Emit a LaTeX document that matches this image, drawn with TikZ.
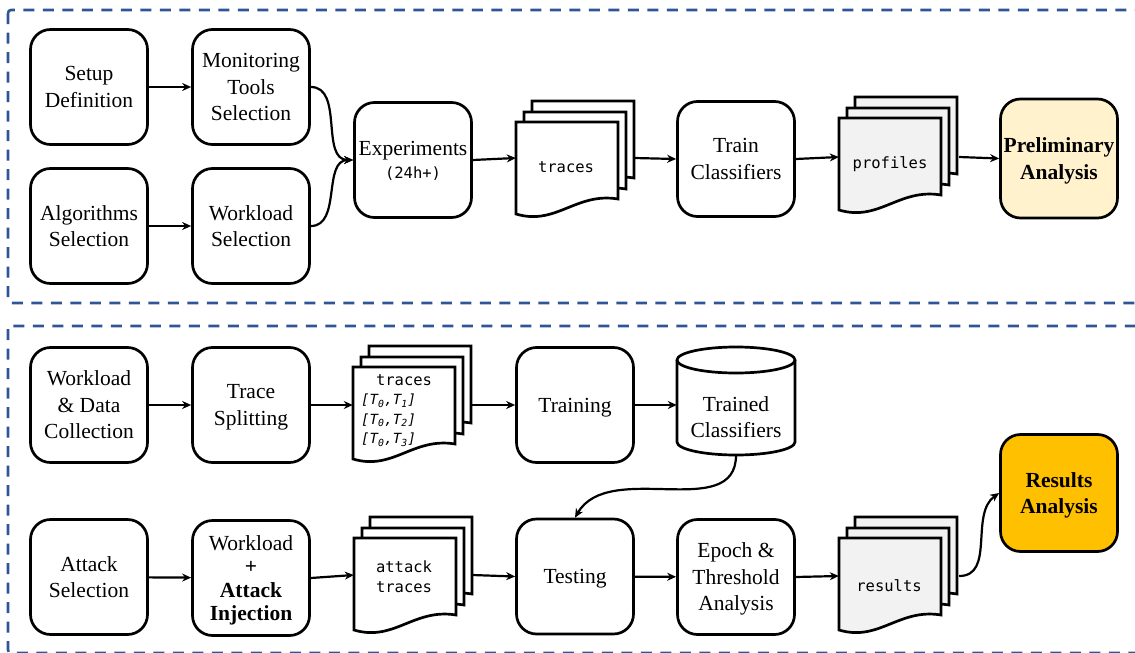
\documentclass[tikz,border=0pt]{standalone}
\usepackage{fontspec}
\setmainfont{Liberation Serif}
\setmonofont{DejaVu Sans Mono}
\usetikzlibrary{arrows.meta}

\definecolor{frameblue}{HTML}{2F5597}
\definecolor{sheetgray}{HTML}{F2F2F2}
\definecolor{paleyellow}{HTML}{FFF2CC}
\definecolor{amber}{HTML}{FFC000}

\tikzset{
  box/.style={draw, line width=2.7pt, rounded corners=20pt, minimum width=117pt,
    minimum height=115pt, align=center, inner sep=2pt, text depth=0pt,
    font=\fontsize{21.5}{26.5}\selectfont},
  flow/.style={line width=2.2pt, -{Stealth[length=9pt,width=8pt]}},
  frame/.style={draw=frameblue, line width=2.6pt, dash pattern=on 11pt off 8.5pt},
  sheet/.style={draw, line width=2.7pt, line join=miter},
  doctext/.style={font=\fontsize{15.5}{20}\selectfont\ttfamily, align=center, inner sep=0pt},
  stackspot/.style={inner sep=0pt, minimum width=#1, minimum height=90pt},
  celltext/.style={font=\fontsize{21.5}{26.5}\selectfont, align=center, inner sep=0pt}
}

% one sheet of a document stack: top-left corner x, y and fill colour
\newcommand\pagesheet[3]{%
  \filldraw[sheet, fill=#3] (#1,#2) -- ++(102,0) -- ++(0,77)
    .. controls +(-42,-7) and +(40,12) .. ++(-102,15) -- cycle;}
% three stacked sheets, given the front sheet's top-left corner
\newcommand\pagestack[3]{%
  \pagesheet{#1+16}{#2-21}{#3}%
  \pagesheet{#1+8}{#2-10}{#3}%
  \pagesheet{#1}{#2}{#3}}
% one interval of a split trace
\newcommand\tpair[1]{{[}T\textsubscript{0},T\textsubscript{#1}{]}}

\begin{document}
\begin{tikzpicture}[x=1pt,y=-1pt]
\useasboundingbox (0,0) rectangle (1135,653);

% dashed stage frames
\draw[frame, rounded corners=3pt] (8,10) rectangle (1165,303);
\draw[frame, rounded corners=3pt] (8,326) rectangle (1165,653);

% ---------- stage 1 ----------
\node[box] (setup)   at (89,87)   {Setup\\Definition};
\node[box] (monitor) at (251,87)  {Monitoring\\Tools\\Selection};
\node[box] (algo)    at (89,226)  {Algorithms\\Selection};
\node[box] (wload)   at (251,226) {Workload\\Selection};
\node[box] (exper)   at (413,160)   {Experiments\\[-4pt]{\fontsize{15.5}{18}\selectfont\ttfamily (24h+)}};

\pagestack{516}{122}{white}
\node[stackspot=118pt] (trA) at (575,158) {};
\node[doctext] (trAtxt) at (566,167) {traces};

\node[box] (train) at (736,159) {Train\\Classifiers};

\pagestack{839}{118}{sheetgray}
\node[stackspot=120pt] (prof) at (899,157) {};
\node[doctext] (proftxt) at (890,164) {profiles};

\node[box, fill=paleyellow, minimum height=119pt, font=\fontsize{21.5}{26.5}\selectfont\bfseries]
  (prelim) at (1059,158.5) {Preliminary\\Analysis};

\draw[flow] (setup) -- (monitor);
\draw[flow] (algo) -- (wload);
\draw[flow] (monitor.east) to[out=0,in=180] (exper.west);
\draw[flow] (wload.east) to[out=0,in=180] (exper.west);
\draw[flow] (exper.east) -- (trA.west);
\draw[flow] (trA.east) -- (train.west);
\draw[flow] (train.east) -- (prof.west);
\draw[flow] (prof.east) -- (prelim.west);

% ---------- stage 2 ----------
\node[box] (collect) at (89,405)  {Workload\\\& Data\\Collection};
\node[box] (split)   at (251,405) {Trace\\Splitting};

\pagestack{353}{367}{white}
\node[stackspot=119pt] (trB) at (412.5,405) {};
\node[doctext] (trBtxt) at (404,380) {traces};
\node[doctext, anchor=north west, align=left, font=\fontsize{14}{19.5}\selectfont\ttfamily\itshape]
  (trBlist) at (361,394) {\tpair{1}\\\tpair{2}\\\tpair{3}};

\node[box] (training) at (575,405) {Training};

% trained classifiers store
\node[stackspot=118pt, minimum height=108pt] (cyl) at (736,401) {};
\filldraw[sheet, fill=white] (677,360) -- (677,442)
  .. controls (677,449.2) and (703.4,455) .. (736,455)
  .. controls (768.6,455) and (795,449.2) .. (795,442) -- (795,360);
\draw[sheet] (736,360) ellipse [x radius=59, y radius=13];
\node[celltext] (cyltxt) at (736,417) {Trained\\Classifiers};

\node[box] (attack) at (89,577) {Attack\\Selection};
\node[box, font=\fontsize{21.5}{23.5}\selectfont] (inject) at (251,578)
  {Workload\\\textbf{+}\\\textbf{Attack}\\\textbf{Injection}};

\pagestack{354}{538}{white}
\node[stackspot=118pt] (atk) at (413,575) {};
\node[doctext] (atktxt) at (404,577) {attack\\traces};

\node[box] (testing) at (575,576.5) {Testing};
\node[box] (epoch)   at (736,577) {Epoch \&\\Threshold\\Analysis};

\pagestack{839}{538}{sheetgray}
\node[stackspot=120pt] (res) at (899,576) {};
\node[doctext] (restxt) at (889,586) {results};

\node[box, fill=amber, minimum height=117pt, font=\fontsize{21.5}{26.5}\selectfont\bfseries]
  (resan) at (1059,493) {Results\\Analysis};

\draw[flow] (collect) -- (split);
\draw[flow] (split.east) -- (trB.west);
\draw[flow] (trB.east) -- (training.west);
\draw[flow] (training.east) -- (training.east -| cyl.west);
\draw[flow] (cyl.south) to[out=-90,in=60] (testing.north);
\draw[flow] (attack) -- (inject);
\draw[flow] (inject.east) -- (atk.west);
\draw[flow] (atk.east) -- (testing.west);
\draw[flow] (testing) -- (epoch);
\draw[flow] (epoch.east) -- (res.west);
\draw[flow] (res.east) to[out=0,in=215] (resan.west);
\end{tikzpicture}
\end{document}
